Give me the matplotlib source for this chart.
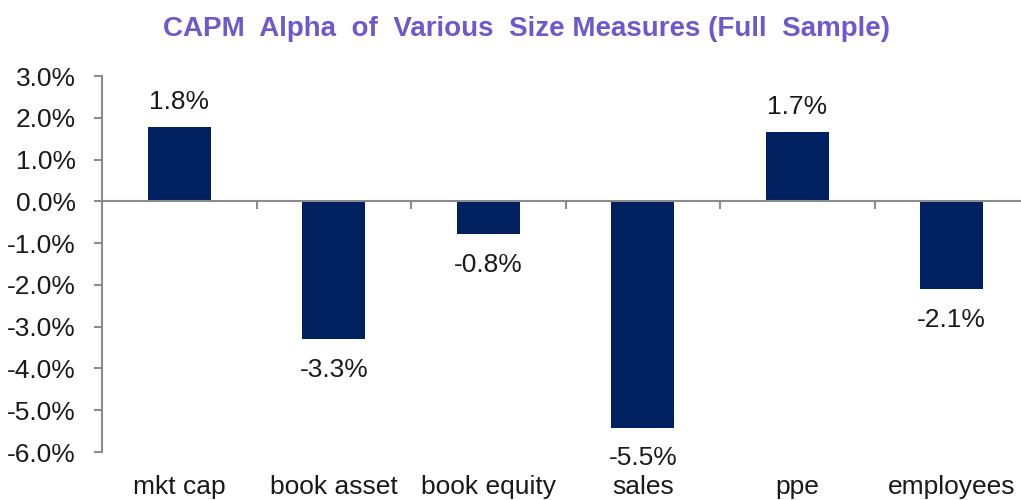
import matplotlib
matplotlib.use("Agg")
import matplotlib.pyplot as plt
from matplotlib.ticker import FuncFormatter

plt.rcParams["font.family"] = ["Liberation Sans", "DejaVu Sans"]

# 데이터 (그림에서 읽은 값, %)
categories = ["mkt cap", "book asset", "book equity", "sales", "ppe", "employees"]
alpha_pct = [1.77, -3.30, -0.79, -5.42, 1.66, -2.11]
alpha_labels = ["1.8%", "-3.3%", "-0.8%", "-5.5%", "1.7%", "-2.1%"]
y_ticks = [-6, -5, -4, -3, -2, -1, 0, 1, 2, 3]

BAR = "#002060"
GREY = "#8c8c8c"
TXT = "#1a1a1a"

fig = plt.figure(figsize=(10.21, 5.0), dpi=100)
ax = fig.add_axes([102 / 1021, 48 / 500, 927 / 1021, 376 / 500])

x = [i + 0.5 for i in range(len(categories))]
ax.bar(x, alpha_pct, width=0.41, color=BAR, zorder=2)

ax.set_xlim(0, len(categories))
ax.set_ylim(y_ticks[0], y_ticks[-1])
ax.set_yticks(y_ticks)
ax.yaxis.set_major_formatter(FuncFormatter(lambda v, _: f"{v:.1f}%"))

for s in ["top", "right"]:
    ax.spines[s].set_visible(False)
ax.spines["left"].set_color(GREY)
ax.spines["left"].set_linewidth(1.5)
ax.spines["bottom"].set_position(("data", 0))
ax.spines["bottom"].set_color(GREY)
ax.spines["bottom"].set_linewidth(1.5)
ax.spines["bottom"].set_zorder(3)

# 카테고리 경계 눈금(0선 위), 라벨은 아래쪽에 따로
ax.set_xticks(range(1, len(categories)))
ax.set_xticklabels([])
ax.tick_params(axis="x", direction="out", length=6, width=1.5, color=GREY)
ax.tick_params(axis="y", direction="out", length=6, width=1.5, color=GREY,
               labelsize=19, labelcolor=TXT, pad=13)

for xi, name in zip(x, categories):
    ax.text(xi, -0.111, name, transform=ax.get_xaxis_transform(),
            ha="center", va="baseline", fontsize=19, color=TXT)

for xi, v, lab in zip(x, alpha_pct, alpha_labels):
    off = 18 if v > 0 else -22
    ax.annotate(lab, (xi, v), xytext=(0, off), textcoords="offset points",
                ha="center", va="center", fontsize=19, color=TXT)

fig.text(526 / 1021, 1 - 29 / 500,
         "CAPM  Alpha  of  Various  Size Measures (Full  Sample)",
         ha="center", va="center", fontsize=20, fontweight="bold",
         color="#6A5ACD")

fig.savefig("out.png", dpi=100)
